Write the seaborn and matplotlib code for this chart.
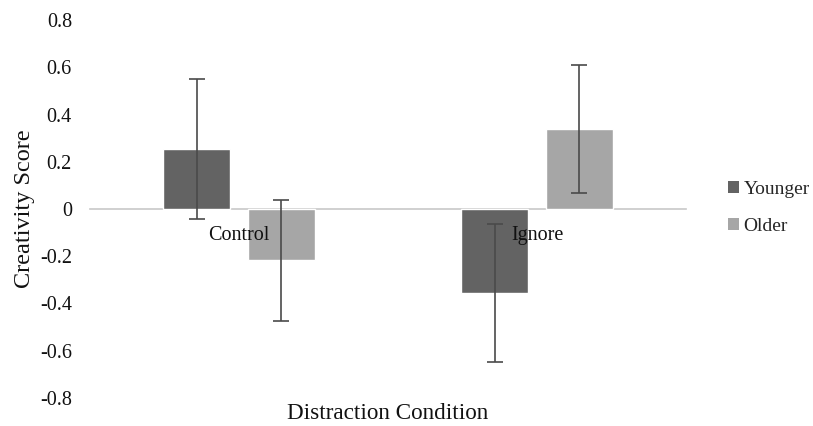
import matplotlib
matplotlib.use("Agg")
import matplotlib.pyplot as plt
import seaborn as sns
import pandas as pd
from matplotlib.patches import Patch

conditions = ["Control", "Ignore"]
groups = ["Younger", "Older"]
younger_means = [0.254, -0.356]
older_means = [-0.216, 0.339]
younger_err = [0.296, 0.292]
older_err = [0.256, 0.271]
yticks = [-0.8, -0.6, -0.4, -0.2, 0, 0.2, 0.4, 0.6, 0.8]
ytick_labels = ["-0.8", "-0.6", "-0.4", "-0.2", "0", "0.2", "0.4", "0.6", "0.8"]

df = pd.DataFrame({
    "Condition": conditions * 2,
    "Group": [groups[0]] * 2 + [groups[1]] * 2,
    "Score": younger_means + older_means,
    "Err": younger_err + older_err,
})

sns.set_theme(style="white")
plt.rcParams["font.family"] = ["Liberation Serif", "DejaVu Serif"]

fig = plt.figure(figsize=(8.13, 4.26), dpi=100)
ax = fig.add_axes([90 / 813, 1 - 398 / 426, 596 / 813, 378 / 426])

palette = {"Younger": "#636363", "Older": "#a6a6a6"}
sns.barplot(data=df, x="Condition", y="Score", hue="Group", order=conditions,
            hue_order=groups, palette=palette, errorbar=None, width=0.568,
            gap=0.208, saturation=1, ax=ax, legend=False)

for cont, g in zip(ax.containers, groups):
    sub = df[df["Group"] == g].set_index("Condition").loc[conditions]
    xs = [b.get_x() + b.get_width() / 2 for b in cont]
    ax.errorbar(xs, sub["Score"].values, yerr=sub["Err"].values, fmt="none",
                ecolor="#4a4a4a", elinewidth=1.2, capsize=5.5, capthick=1.2, zorder=3)

ax.set_ylim(-0.8, 0.8)
ax.set_xlim(-0.5, 1.5)
ax.set_yticks(yticks)
ax.set_yticklabels(ytick_labels)
for s in ["top", "right", "left"]:
    ax.spines[s].set_visible(False)
ax.spines["bottom"].set_position(("data", 0))
ax.spines["bottom"].set_color("#c8c8c8")
ax.spines["bottom"].set_linewidth(1.2)
ax.spines["bottom"].set_zorder(0.5)
ax.xaxis.set_zorder(5)
ax.tick_params(axis="y", length=0, pad=13, labelsize=14.5, colors="#111111")
ax.tick_params(axis="x", length=0, pad=12, labelsize=14.5, colors="#111111")

ax.set_xlabel("Distraction Condition", fontsize=16.7, color="#111111")
ax.xaxis.set_label_coords(0.5, -0.013)
ax.set_ylabel("Creativity Score", fontsize=17.5, color="#111111")
ax.yaxis.set_label_coords(-0.092, 0.5)

handles = [Patch(facecolor=palette[g], edgecolor="none") for g in groups]
fig.legend(handles, groups, loc="center left", bbox_to_anchor=(728 / 813, 1 - 208 / 426),
           frameon=False, fontsize=14, borderpad=0, borderaxespad=0,
           handlelength=0.55, handleheight=0.55, handletextpad=0.25, labelspacing=1.05)

fig.savefig("out.png", dpi=100, facecolor="white")
